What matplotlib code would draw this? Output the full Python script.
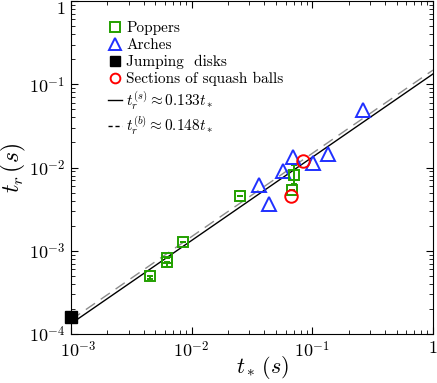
import numpy as np
import matplotlib
matplotlib.use("Agg")
import matplotlib.pyplot as plt
import matplotlib.transforms as mtransforms

plt.rcParams['mathtext.fontset'] = 'cm'
plt.rcParams['font.family'] = 'serif'
plt.rcParams['font.serif'] = ['cmr10']
plt.rcParams['axes.formatter.use_mathtext'] = True

# data
pop_x = [4.5e-3, 6.2e-3, 6.2e-3, 8.5e-3, 0.0251, 0.0705, 0.0678]
pop_y = [4.96e-4, 8.1e-4, 7.3e-4, 1.26e-3, 4.6e-3, 8.2e-3, 5.3e-3]
pop_lo = [0.4e-4, 0, 0.9e-4, 0, 0, 1.8e-3, 0]
pop_hi = [0, 0, 0, 0, 0, 2.4e-3, 0]

arch_x = [0.0361, 0.0436, 0.057, 0.069, 0.101, 0.1346, 0.262]
arch_y = [6.1e-3, 3.6e-3, 9.2e-3, 0.0132, 0.0112, 0.0147, 0.0496]

disk_x = [1.0e-3]
disk_y = [1.6e-4]

ball_x = [0.0835, 0.0665]
ball_y = [0.0121, 4.5e-3]

fit_s = 0.133
fit_b = 0.148

fig = plt.figure(figsize=(4.37, 3.83), dpi=100)
ax = fig.add_axes([71/437, 49/383, 362/437, 333/383])

tx = np.array([1e-3, 1.0])
ax.plot(tx, fit_b*tx, '--', color='0.55', lw=1.0, dashes=(8, 5), zorder=1)
ax.plot(tx, fit_s*tx, '-', color='k', lw=1.0, zorder=1)

ax.errorbar(pop_x, pop_y, yerr=[pop_lo, pop_hi], fmt='s', ms=7, mfc='none',
            mec='#22a000', mew=1.4, ecolor='#22a000', elinewidth=1.4, capsize=2,
            zorder=3)
ax.plot(arch_x, arch_y, '^', ms=10, mfc='none', mec='#2030ff', mew=1.4, zorder=3)
ax.plot(disk_x, disk_y, 's', ms=8, color='k', clip_on=False, zorder=4)
ax.plot(ball_x, ball_y, 'o', ms=9, mfc='none', mec='#ff0000', mew=1.4, zorder=4)

# legend handles
h = []
h.append(ax.plot([], [], 's', ms=7, mfc='none', mec='#22a000', mew=1.4, label='Poppers')[0])
h.append(ax.plot([], [], '^', ms=8.5, mfc='none', mec='#2030ff', mew=1.4, label='Arches')[0])
h.append(ax.plot([], [], 's', ms=7, color='k', label='Jumping  disks')[0])
h.append(ax.plot([], [], 'o', ms=7, mfc='none', mec='#ff0000', mew=1.4, label='Sections of squash balls')[0])
h.append(ax.plot([], [], '-', color='k', lw=1.0, label=r'$t_r^{(s)} \approx 0.133 t_*$')[0])
h.append(ax.plot([], [], '--', color='k', lw=1.0, dashes=(3, 2), label=r'$t_r^{(b)} \approx 0.148 t_*$')[0])
ax.legend(handles=h, loc='upper left', bbox_to_anchor=(0.085, 0.958), frameon=False,
          fontsize=11, handlelength=0.9, handletextpad=0.3, labelspacing=0.2,
          borderaxespad=0)

ax.set_xscale('log')
ax.set_yscale('log')
ax.set_xlim(1e-3, 1)
ax.set_ylim(1e-4, 1)
ax.set_xticks([1e-3, 1e-2, 1e-1, 1])
ax.set_xticklabels([r'$10^{-3}$', r'$10^{-2}$', r'$10^{-1}$', r'$1$'])
ax.set_yticks([1e-4, 1e-3, 1e-2, 1e-1, 1])
ax.set_yticklabels([r'$10^{-4}$', r'$10^{-3}$', r'$10^{-2}$', r'$10^{-1}$', r'$1$'])
ax.tick_params(which='both', direction='in', top=True, right=True, labelsize=13)
ax.tick_params(which='major', length=5, pad=4)
ax.tick_params(which='minor', length=3)
ax.get_yticklabels()[-1].set_va('top')
# nudge the first x tick label right, clear of 10^-4
first = ax.get_xticklabels()[0]
first.set_transform(first.get_transform() +
                    mtransforms.ScaledTranslation(7/100, 0, fig.dpi_scale_trans))

ax.set_xlabel(r'$t_*\,(s)$', fontsize=16)
ax.xaxis.set_label_coords(0.53, -0.06)
ax.set_ylabel(r'$t_r\,(s)$', fontsize=17)
ax.yaxis.set_label_coords(-0.12, 0.5)

fig.savefig('out.png', dpi=100)
